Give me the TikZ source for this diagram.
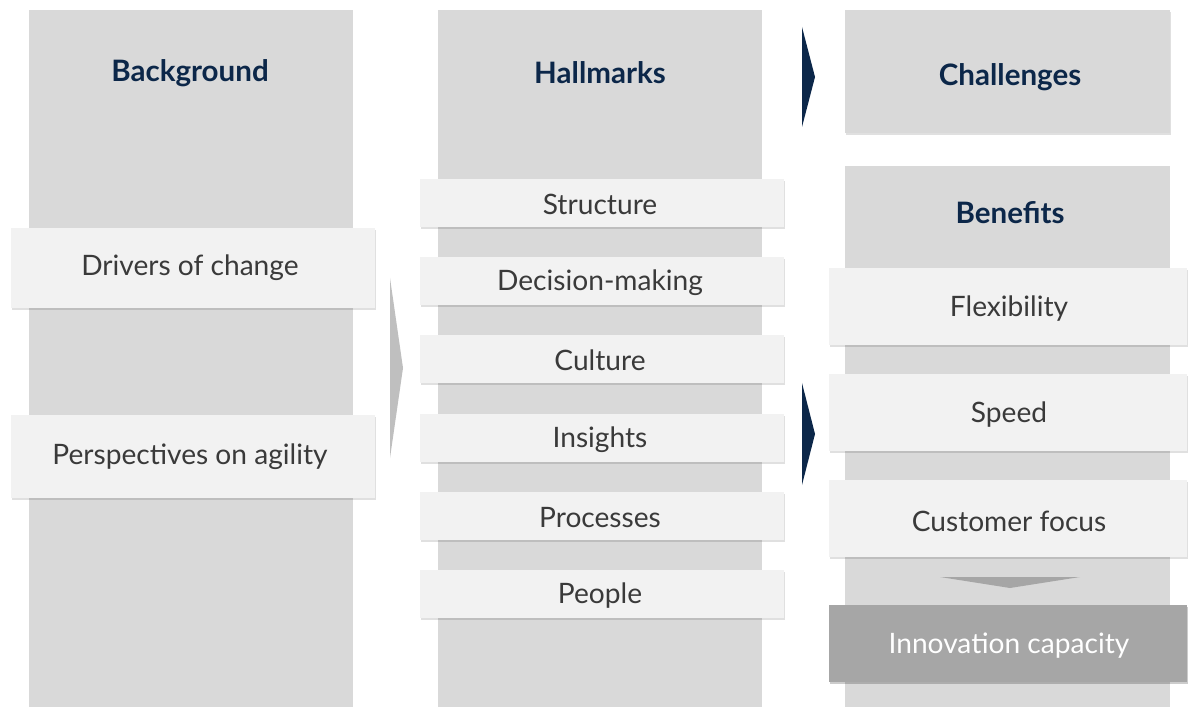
\documentclass[tikz,border=0pt]{standalone}
\usepackage{fontspec}
\setmainfont{Lato}
\usetikzlibrary{shadows}
\definecolor{colgray}{HTML}{D9D9D9}
\definecolor{boxgray}{HTML}{F2F2F2}
\definecolor{darkbox}{HTML}{A6A6A6}
\definecolor{navy}{HTML}{0C2749}
\definecolor{txt}{HTML}{3A3A3A}
\definecolor{arrgray}{HTML}{BFBFBF}
\tikzset{
  card/.style={fill=boxgray, draw=none, drop shadow={shadow xshift=1pt, shadow yshift=-1.2pt, opacity=0.12, fill=black}},
  darkcard/.style={fill=darkbox, draw=none, drop shadow={shadow xshift=1pt, shadow yshift=-1.2pt, opacity=0.2, fill=black}},
  title/.style={font=\fontsize{21}{24}\selectfont\bfseries, text=navy},
  label/.style={font=\fontsize{20}{23}\selectfont, text=txt},
}
\begin{document}
\begin{tikzpicture}[x=0.025cm, y=-0.025cm]
\useasboundingbox (0,0) rectangle (1188,707);
% columns
\fill[colgray] (29,10) rectangle (353,707);
\fill[colgray] (438,10) rectangle (762,707);
\fill[colgray, drop shadow={shadow xshift=1pt, shadow yshift=-1.2pt, opacity=0.12, fill=black}] (845,10) rectangle (1170,133);
\fill[colgray] (845,166) rectangle (1170,707);
% titles
\node[title] (tbg) at (190,73) {Background};
\node[title] (thm) at (600,73) {Hallmarks};
\node[title] (tch) at (1010,77) {Challenges};
\node[title] (tbe) at (1010,213) {Benefits};
% column 1 cards
\path[card] (11,228) rectangle (375,308);
\node[label] (drv) at (190,268) {Drivers of change};
\path[card] (11,415) rectangle (375,498);
\node[label] (per) at (190,457) {Perspectives on agility};
% column 2 cards
\foreach \y/\t/\n in {203/Structure/str, 281/Decision-making/dec, 359/Culture/cul, 438/Insights/ins, 516/Processes/pro, 594/People/peo}{
  \path[card] (420,\y-24) rectangle (784,\y+24);
  \node[label] (\n) at (600,\y+1.5) {\t};
}
% column 3 cards
\foreach \y/\t/\n in {307/Flexibility/flx, 413/Speed/spd, 519/Customer focus/cus}{
  \path[card] (829,\y-39) rectangle (1187,\y+38);
  \node[label] (\n) at (1009,\y+2) {\t};
}
\path[darkcard] (829,605) rectangle (1187,682);
\node[label, text=white] (inn) at (1009,646) {Innovation capacity};
% arrows
\fill[arrgray] (390,278) -- (403,368) -- (390,458) -- cycle;
\fill[navy] (802,27) -- (815,77) -- (802,127) -- cycle;
\fill[navy] (802,383) -- (815,434) -- (802,485) -- cycle;
\fill[darkbox] (940,577) -- (1080,577) -- (1010,588) -- cycle;
\end{tikzpicture}
\end{document}
